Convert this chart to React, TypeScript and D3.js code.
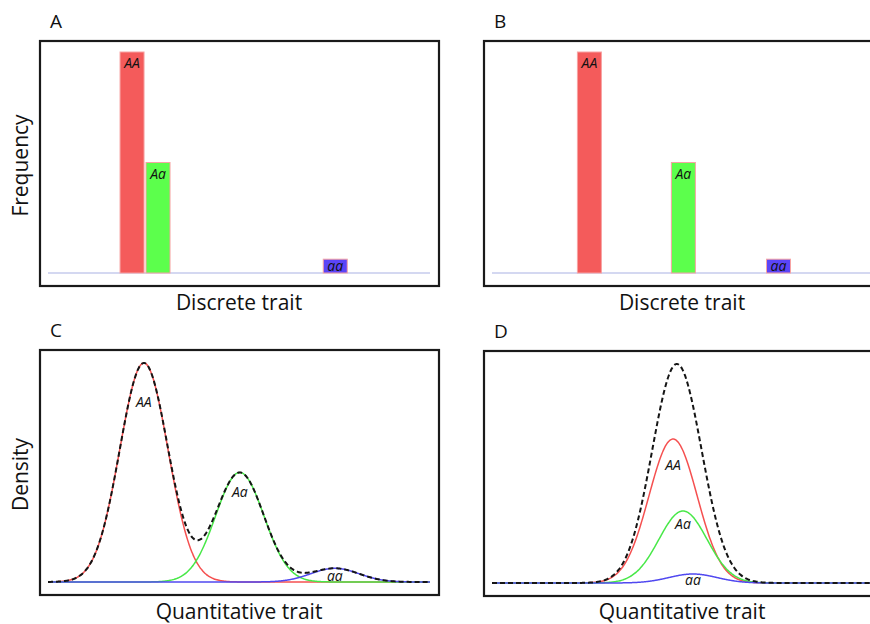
import React, {useRef, useEffect} from "react";
import * as d3 from "d3";

// genotype classes and their frequencies (p = 0.8)
const genotypes = ["AA", "Aa", "aa"];
const genotypeFreq = [0.64, 0.32, 0.04];

// trait value of each genotype (0-100 trait axis)
const discreteA = [22, 28.8, 75.2];
const discreteB = [25.5, 50.1, 75];
const meansC = [25.1, 50.2, 75.1];
const meansD = [47.4, 50, 52.6];
const traitSd = 6.3;

const panelLetters = ["A", "B", "C", "D"];
const yTitles = ["Frequency", "Density"];
const xTitles = ["Discrete trait", "Quantitative trait"];

const fillColors = ["#f45b5b", "#5cff4c", "#5b45f7"];
const lineColors = ["#f55050", "#48e848", "#5048f0"];
const FONT = "'Open Sans', 'Noto Sans', sans-serif";

const W = 870;
const H = 624;
const frameW = 399;
const frameH = 245;

const normal = (x: number, mu: number, sd: number) =>
  Math.exp(-((x - mu) ** 2) / (2 * sd * sd)) / (sd * Math.sqrt(2 * Math.PI));

const App = () => {
  const svgRef = useRef<SVGSVGElement>(null);

  useEffect(() => {
    const svg = d3.select(svgRef.current);
    svg.selectAll("*").remove();

    const panels = [
      {left: 40, top: 41, kind: "bar", pos: discreteA},
      {left: 484, top: 41, kind: "bar", pos: discreteB},
      {left: 40, top: 350, kind: "curve", pos: meansC},
      {left: 484, top: 351, kind: "curve", pos: meansD},
    ];

    panels.forEach((p, pi) => {
      const g = svg.append("g");
      const base = p.top + 232;
      const xScale = d3
        .scaleLinear()
        .domain([0, 100])
        .range([p.left + 8, p.left + 390]);

      // panel letter
      g.append("text")
        .attr("x", p.left + 10)
        .attr("y", p.top - 13)
        .style("font-family", FONT)
        .style("font-size", "19px")
        .attr("fill", "#111")
        .text(panelLetters[pi]);

      // frame
      g.append("rect")
        .attr("x", p.left)
        .attr("y", p.top)
        .attr("width", frameW)
        .attr("height", frameH)
        .attr("fill", "white")
        .attr("stroke", "#1a1a1a")
        .attr("stroke-width", 2.2);

      // x title
      g.append("text")
        .attr("x", p.left + (pi % 2 === 0 ? 199 : 198))
        .attr("y", p.kind === "bar" ? p.top + frameH + 24 : 619)
        .attr("text-anchor", "middle")
        .style("font-family", FONT)
        .style("font-size", "21px")
        .attr("fill", "#111")
        .text(xTitles[p.kind === "bar" ? 0 : 1]);

      // y title (left panels only)
      if (pi % 2 === 0) {
        const cy = p.top + frameH / 2 + 2;
        g.append("text")
          .attr("transform", `translate(${p.left - 12}, ${cy}) rotate(-90)`)
          .attr("text-anchor", "middle")
          .style("font-family", FONT)
          .style("font-size", "21px")
          .attr("fill", "#111")
          .text(yTitles[p.kind === "bar" ? 0 : 1]);
      }

      if (p.kind === "bar") {
        const yScale = d3
          .scaleLinear()
          .domain([0, d3.max(genotypeFreq) as number])
          .range([base, p.top + 11]);

        // baseline
        g.append("line")
          .attr("x1", p.left + 8)
          .attr("x2", p.left + 390)
          .attr("y1", base)
          .attr("y2", base)
          .attr("stroke", "#aab2e4")
          .attr("stroke-width", 1.2);

        const bw = 24;
        g.selectAll("rect.bar")
          .data(genotypes)
          .enter()
          .append("rect")
          .attr("class", "bar")
          .attr("x", (d, i) => xScale(p.pos[i]) - bw / 2)
          .attr("y", (d, i) => yScale(genotypeFreq[i]))
          .attr("width", bw)
          .attr("height", (d, i) => base - yScale(genotypeFreq[i]))
          .attr("fill", (d, i) => fillColors[i])
          .attr("stroke", "#f7a3a3")
          .attr("stroke-width", 1);

        g.selectAll("text.lab")
          .data(genotypes)
          .enter()
          .append("text")
          .attr("class", "lab")
          .attr("x", (d, i) => xScale(p.pos[i]))
          .attr("y", (d, i) => Math.min(yScale(genotypeFreq[i]) + 16, base - 2))
          .attr("text-anchor", "middle")
          .style("font-family", FONT)
          .style("font-size", "14px")
          .style("font-style", "italic")
          .attr("fill", "#111")
          .text((d) => d);
      } else {
        const xs = d3.range(0, 100.001, 0.25);
        const comps = genotypes.map((gt, i) =>
          xs.map((x) => [x, genotypeFreq[i] * normal(x, p.pos[i], traitSd)])
        );
        const total = xs.map((x, k) => [
          x,
          d3.sum(comps, (c) => c[k][1]),
        ]);
        const yScale = d3
          .scaleLinear()
          .domain([0, d3.max(total, (d) => d[1]) as number])
          .range([base, p.top + 13]);

        const line = d3
          .line<number[]>()
          .x((d) => xScale(d[0]))
          .y((d) => yScale(d[1]))
          .curve(d3.curveMonotoneX);

        comps.forEach((c, i) => {
          g.append("path")
            .attr("d", line(c))
            .attr("fill", "none")
            .attr("stroke", lineColors[i])
            .attr("stroke-width", 1.5);
        });

        g.append("path")
          .attr("d", line(total))
          .attr("fill", "none")
          .attr("stroke", "#151515")
          .attr("stroke-width", 2)
          .attr("stroke-dasharray", "5,3");

        // curve labels
        genotypes.forEach((gt, i) => {
          const peak = genotypeFreq[i] * normal(0, 0, traitSd);
          const tall = base - yScale(peak) > 40;
          const cy = tall ? yScale(peak * 0.82) : yScale(peak * 0.5) + 1;
          g.append("text")
            .attr("x", xScale(p.pos[i]))
            .attr("y", cy + 5)
            .attr("text-anchor", "middle")
            .style("font-family", FONT)
            .style("font-size", "14px")
            .style("font-style", "italic")
            .attr("fill", "#111")
            .text(gt);
        });
      }
    });
  }, []);

  return (
    <svg
      ref={svgRef}
      width={W}
      height={H}
      style={{position: "absolute", left: 0, top: 0, background: "white"}}
    ></svg>
  );
};

export default App;
